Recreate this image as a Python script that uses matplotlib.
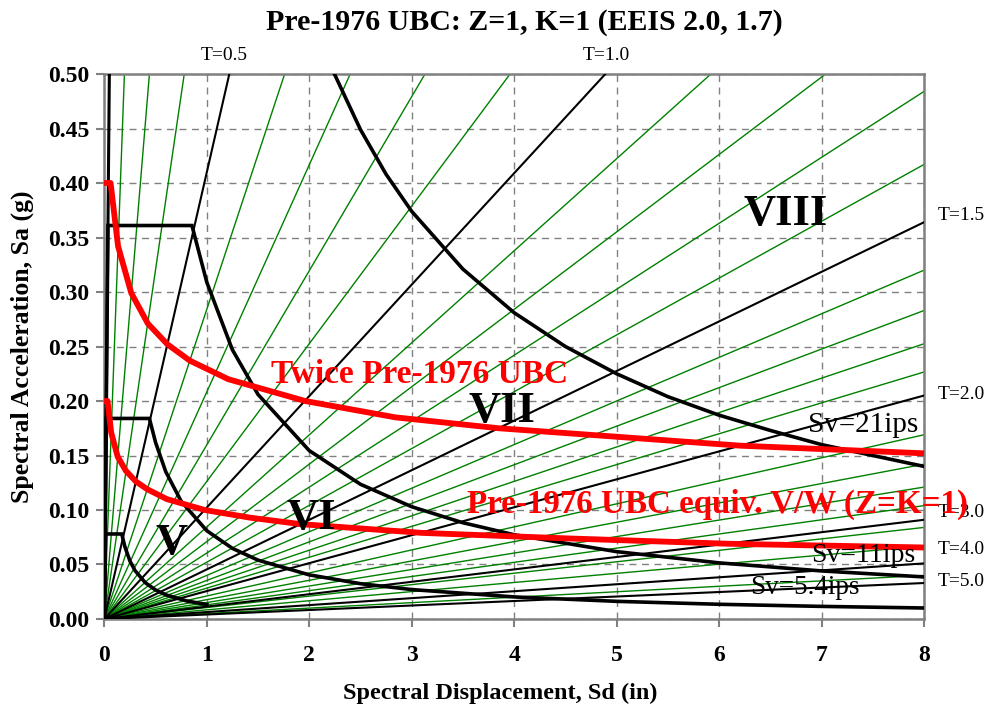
import matplotlib
matplotlib.use("Agg")
import matplotlib.pyplot as plt

# ---------------- data ----------------
# radial period lines: end points (Sd in, Sa g) of lines from the origin
black_T_labels = ["T=0.1", "T=0.5", "T=1.0", "T=1.5", "T=2.0", "T=3.0", "T=4.0", "T=5.0"]
black_end_sd = [0.049, 1.22, 4.89, 8.0, 8.0, 8.0, 8.0, 8.0]
black_end_sa = [0.5, 0.5, 0.5, 0.364, 0.205, 0.091, 0.051, 0.033]

green_end_sd = [0.196, 0.44, 0.78, 1.76, 2.40, 3.13, 3.96, 5.92, 7.04,
                8.0, 8.0, 8.0, 8.0, 8.0, 8.0, 8.0, 8.0, 8.0, 8.0, 8.0, 8.0, 8.0]
green_end_sa = [0.5, 0.5, 0.5, 0.5, 0.5, 0.5, 0.5, 0.5, 0.5,
                0.484, 0.417, 0.320, 0.283, 0.2525, 0.2266, 0.169, 0.142, 0.121,
                0.104, 0.084, 0.067, 0.040]

# MMI intensity spectra (V, VI, VII) and constant-velocity curve (VIII)
v_sd = [0.0, 0.0076, 0.17, 0.2, 0.25, 0.3, 0.4, 0.5, 0.6, 0.8, 1.0]
v_sa = [0.0, 0.078, 0.078, 0.0665, 0.0532, 0.0443, 0.0333, 0.0266, 0.0222, 0.0166, 0.0133]

vi_sd = [0.0, 0.018, 0.44, 0.5, 0.6, 0.75, 1.0, 1.25, 1.5, 2.0, 2.5, 3.0, 4.0, 5.0, 6.0, 7.0, 8.0]
vi_sa = [0.0, 0.184, 0.184, 0.162, 0.135, 0.108, 0.081, 0.0648, 0.054, 0.0405, 0.0324,
         0.027, 0.02025, 0.0162, 0.0135, 0.01157, 0.0101]

vii_sd = [0.0, 0.035, 0.855, 1.0, 1.25, 1.5, 2.0, 2.5, 3.0, 3.5, 4.0, 5.0, 6.0, 7.0, 8.0]
vii_sa = [0.0, 0.361, 0.361, 0.309, 0.247, 0.206, 0.1545, 0.1236, 0.103, 0.0883, 0.0773,
          0.0618, 0.0515, 0.0441, 0.0386]

viii_sd = [2.246, 2.5, 2.75, 3.0, 3.5, 4.0, 4.5, 5.0, 5.5, 6.0, 6.5, 7.0, 7.5, 8.0]
viii_sa = [0.5, 0.449, 0.408, 0.374, 0.321, 0.281, 0.250, 0.225, 0.204, 0.187, 0.173,
           0.160, 0.150, 0.140]

# UBC curves
ubc_sd = [0.0, 0.031, 0.067, 0.13, 0.21, 0.31, 0.42, 0.61, 0.98, 1.42, 1.92, 3.1, 4.5, 6.1, 8.0]
ubc_sa = [0.2, 0.2, 0.171, 0.149, 0.136, 0.126, 0.119, 0.110, 0.100, 0.093, 0.087, 0.079,
          0.074, 0.069, 0.0656]
twice_sd = [0.0, 0.061, 0.134, 0.263, 0.425, 0.616, 0.835, 1.21, 1.96, 2.84, 3.85, 6.21, 8.0]
twice_sa = [0.4, 0.4, 0.342, 0.299, 0.271, 0.252, 0.237, 0.220, 0.200, 0.185, 0.175, 0.159, 0.152]

x_ticks = [0, 1, 2, 3, 4, 5, 6, 7, 8]
y_ticks = [0.0, 0.05, 0.10, 0.15, 0.20, 0.25, 0.30, 0.35, 0.40, 0.45, 0.50]

# ---------------- drawing ----------------
plt.rcParams['font.family'] = ['Liberation Serif', 'DejaVu Serif']

W, H = 988, 711
fig = plt.figure(figsize=(9.88, 7.11), dpi=100)
ax = fig.add_axes([0.1056, 0.1294, 0.8296, 0.7665])
ax.set_xlim(0, 8)
ax.set_ylim(0, 0.5)

for sd, sa in zip(green_end_sd, green_end_sa):
    ax.plot([0, sd], [0, sa], color='#008000', lw=1.0, zorder=2)
for i, (sd, sa) in enumerate(zip(black_end_sd, black_end_sa)):
    ax.plot([0, sd], [0, sa], color='black', lw=2.2 if i == 0 else 1.5, zorder=3)

for xs, ys in [(v_sd, v_sa), (vi_sd, vi_sa), (vii_sd, vii_sa), (viii_sd, viii_sa)]:
    ax.plot(xs, ys, color='black', lw=2.6, zorder=4, solid_joinstyle='miter')

ax.plot(ubc_sd, ubc_sa, color='red', lw=4.2, zorder=5)
ax.plot(twice_sd, twice_sa, color='red', lw=4.2, zorder=5)

ax.set_xticks(x_ticks)
ax.set_yticks(y_ticks)
ax.set_xticklabels([str(v) for v in x_ticks])
ax.set_yticklabels([f"{v:.2f}" for v in y_ticks])
ax.tick_params(axis='both', direction='out', length=6, width=1.5, color='#808080',
               labelsize=17)
ax.tick_params(axis='x', pad=13)
ax.tick_params(axis='y', pad=5)
for lab in ax.get_xticklabels() + ax.get_yticklabels():
    lab.set_fontweight('bold')
ax.grid(True, color='#808080', lw=1.0, linestyle=(0, (5, 4)), zorder=1)
for sp in ax.spines.values():
    sp.set_color('#808080')
    sp.set_linewidth(1.8)

fig.text(500 / W, 1 - 693 / H, "Spectral Displacement, Sd (in)", ha='center', va='center',
         fontsize=17.5, fontweight='bold')
fig.text(22 / W, 1 - 347 / H, "Spectral Acceleration, Sa (g)", ha='center', va='center',
         rotation=90, fontsize=18.5, fontweight='bold')
fig.text(524 / W, 1 - 22 / H, "Pre-1976 UBC: Z=1, K=1 (EEIS 2.0, 1.7)", ha='center',
         va='center', fontsize=21.5, fontweight='bold')

# period labels
ax.text(1.17, 0.517, "T=0.5", ha='center', va='center', fontsize=14, clip_on=False)
ax.text(4.90, 0.517, "T=1.0", ha='center', va='center', fontsize=14, clip_on=False)
for lab, yv in [("T=1.5", 0.370), ("T=2.0", 0.206), ("T=3.0", 0.098),
                ("T=4.0", 0.064), ("T=5.0", 0.034)]:
    ax.text(8.13, yv, lab, ha='left', va='center', fontsize=14, clip_on=False)

# intensity labels
for lab, xv, yv in [("VIII", 6.65, 0.372), ("VII", 3.88, 0.191), ("VI", 2.02, 0.093),
                    ("V", 0.66, 0.070)]:
    ax.text(xv, yv, lab, ha='center', va='center', fontsize=32, fontweight='bold', zorder=7)

ax.text(1.63, 0.224, "Twice Pre-1976 UBC", ha='left', va='center', fontsize=24,
        fontweight='bold', color='red', zorder=8)
ax.text(3.54, 0.105, "Pre-1976 UBC equiv. V/W (Z=K=1)", ha='left', va='center', fontsize=23.8,
        fontweight='bold', color='red', zorder=8, clip_on=False)

ax.text(6.87, 0.178, "Sv=21ips", ha='left', va='center', fontsize=21, zorder=7)
ax.text(6.90, 0.058, "Sv=11ips", ha='left', va='center', fontsize=20, zorder=7)
ax.text(6.30, 0.029, "Sv=5.4ips", ha='left', va='center', fontsize=19.5, zorder=7)

fig.savefig("out.png", dpi=100)
